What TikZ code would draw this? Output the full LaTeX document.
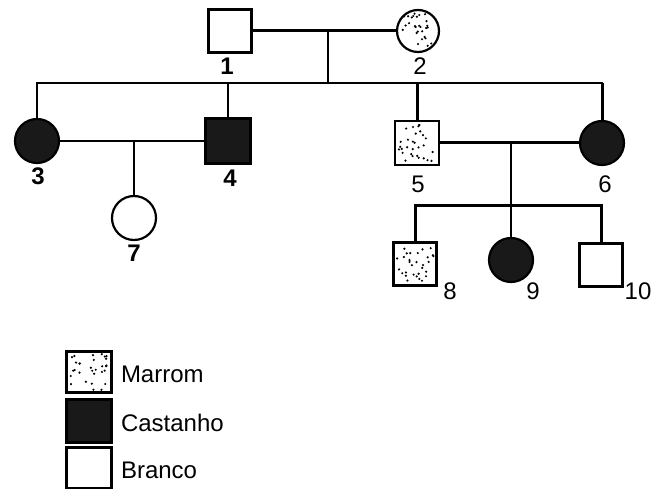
\documentclass[tikz,border=0pt]{standalone}
\usepackage{fontspec}
\setmainfont{Liberation Sans}
\begin{document}
\begin{tikzpicture}[x=1pt,y=-1pt,
  every node/.style={inner sep=0pt,outer sep=0pt},
  sq/.style={draw,rectangle,line width=2.2pt,minimum width=#1,minimum height=#1},
  sq/.default=44pt,
  ci/.style={draw,circle,line width=2.2pt,minimum size=44pt},
  blk/.style={fill=black!90},
  stip/.style={path picture={\foreach \k in {1,...,30}{\pgfmathsetmacro{\dx}{rand*19}\pgfmathsetmacro{\dy}{rand*18}\fill ([shift={(\dx pt,\dy pt)}]path picture bounding box.center) circle (1.2pt);}}},
  thin/.style={line width=1.5pt},
  thk/.style={line width=3pt},
  lab/.style={font=\fontsize{24}{24}\selectfont},
  labb/.style={font=\fontsize{24}{24}\selectfont\bfseries},
  leg/.style={font=\fontsize{24}{24}\selectfont,anchor=west}]
\useasboundingbox (0,0) rectangle (659,489);
\pgfmathsetseed{7}
% generation I
\node[sq=43pt,fill=white] (n1) at (230,31) {};
\node[ci,minimum size=42pt,stip] (n2) at (418,31) {};
% generation II
\node[ci,blk] (n3) at (37,141) {};
\node[sq=45pt,blk] (n4) at (228,141) {};
\node[sq=44pt,stip] (n5) at (417,143) {};
\node[ci,blk] (n6) at (602,143) {};
% generation III
\node[ci] (n7) at (134,218) {};
\node[sq=43pt,stip] (n8) at (415,264) {};
\node[ci,blk] (n9) at (511,260) {};
\node[sq=43pt] (n10) at (601,265) {};
% labels
\node[labb] (l1) at (227,66) {1};
\node[lab] (l2) at (420,66) {2};
\node[labb] (l3) at (38,176) {3};
\node[labb] (l4) at (230,178) {4};
\node[lab] (l5) at (418,184) {5};
\node[lab] (l6) at (605,184) {6};
\node[labb] (l7) at (134,253) {7};
\node[lab] (l8) at (450,291) {8};
\node[lab] (l9) at (533,291) {9};
\node[lab] (l10) at (638,291) {10};
% coordinates
\coordinate (m12) at (328,31);
\coordinate (s1) at (328,83);
\coordinate (m34) at (134,141);
\coordinate (m56) at (511,143);
\coordinate (s56) at (511,206);
% connectors
\draw[thk] (n1.east) -- (n2.west);
\draw[thin] (m12) -- (s1);
\draw[thin] (n3.north) |- (s1) -| (n6.north);
\draw[thin] (n4.north) -- (n4.north |- s1);
\draw[thk] (n5.north) -- (n5.north |- s1);
\draw[thk] (n6.north) -- (n6.north |- s1);
\draw[thin] (n3.east) -- (n4.west);
\draw[thin] (m34) -- (n7.north);
\draw[thk] (n5.east) -- (n6.west);
\draw[thin] (m56) -- (s56);
\draw[thk] (n8.north) |- (s56) -| (n10.north);
\draw[thin] (n10.north) -- (n10.north |- s56);
\draw[thin] (s56) -- (n9.north);
% legend
\node[draw,line width=2.2pt,minimum width=45pt,minimum height=41pt,stip] (k1) at (89,372) {};
\node[draw,line width=2.2pt,minimum width=45pt,minimum height=43pt,blk] (k2) at (89,421) {};
\node[draw,line width=2.2pt,minimum width=45pt,minimum height=41pt] (k3) at (89,468) {};
\node[leg] (t1) at (121,374) {Marrom};
\node[leg] (t2) at (121,423) {Castanho};
\node[leg] (t3) at (121,470) {Branco};
\end{tikzpicture}
\end{document}
